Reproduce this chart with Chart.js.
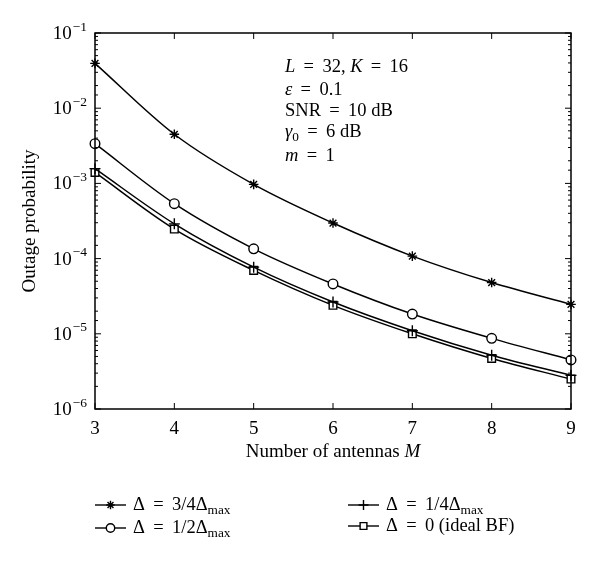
<!DOCTYPE html>
<html>
<head>
<meta charset="utf-8">
<script src="https://cdn.jsdelivr.net/npm/chart.js@4.4.1/dist/chart.umd.min.js"></script>
<style>
  html, body { margin: 0; padding: 0; background: #fff; }
  #wrap { width: 600px; height: 564px; }
</style>
</head>
<body>
<div id="wrap"><canvas id="outageChart" width="600" height="564"></canvas></div>
<script>
// Number of antennas M
const mValues = [3, 4, 5, 6, 7, 8, 9];
// Outage probability
const delta34 = [3.95e-2, 4.5e-3, 9.7e-4, 2.97e-4, 1.08e-4, 4.8e-5, 2.46e-5];
const delta12 = [3.37e-3, 5.37e-4, 1.35e-4, 4.6e-5, 1.83e-5, 8.7e-6, 4.5e-6];
const delta14 = [1.57e-3, 2.9e-4, 7.7e-5, 2.65e-5, 1.1e-5, 5.2e-6, 2.8e-6];
const delta0 = [1.4e-3, 2.47e-4, 6.97e-5, 2.39e-5, 1.0e-5, 4.7e-6, 2.5e-6];
// y tick labels are 10^exp
const yExponents = [-6, -5, -4, -3, -2, -1];

const FONT = '"Liberation Serif", "DejaVu Serif", serif';
const SP = '\u2009'; // thin space, the reference sets "=" a bit wider

function toPoints(values) {
    return mValues.map((m, i) => ({ x: m, y: values[i] }));
}

const seriesDefs = [
    { label: ['Δ' + SP + ' = ' + SP + '3/4Δ', 'max'], data: delta34, style: 'star', radius: 4.8, legendR: 4.2 },
    { label: ['Δ' + SP + ' = ' + SP + '1/2Δ', 'max'], data: delta12, style: 'circle', radius: 4.8, legendR: 4.2 },
    { label: ['Δ' + SP + ' = ' + SP + '1/4Δ', 'max'], data: delta14, style: 'cross', radius: 5.5, legendR: 5 },
    { label: ['Δ' + SP + ' = ' + SP + '0 (ideal BF)', ''], data: delta0, style: 'rect', radius: 5.4, legendR: 4.8 }
];

// draw text made of runs: {t, italic, sub}
function drawRuns(ctx, runs, x, y, size) {
    ctx.textBaseline = 'middle';
    ctx.textAlign = 'left';
    runs.forEach(r => {
        const s = r.sub ? size * 0.72 : size;
        ctx.font = (r.italic ? 'italic ' : '') + s + 'px ' + FONT;
        ctx.fillText(r.t, x, r.sub ? y + size * 0.3 : y);
        x += ctx.measureText(r.t).width;
    });
}

function runsWidth(ctx, runs, size) {
    let w = 0;
    runs.forEach(r => {
        const s = r.sub ? size * 0.72 : size;
        ctx.font = (r.italic ? 'italic ' : '') + s + 'px ' + FONT;
        w += ctx.measureText(r.t).width;
    });
    return w;
}

const EQ = SP + ' = ' + SP;
const annotation = [
    [{ t: 'L', italic: true }, { t: EQ + '32, ' }, { t: 'K', italic: true }, { t: EQ + '16' }],
    [{ t: 'ε', italic: true }, { t: EQ + '0.1' }],
    [{ t: 'SNR' + EQ + '10 dB' }],
    [{ t: 'γ', italic: true }, { t: '0', sub: true }, { t: EQ + '6 dB' }],
    [{ t: 'm', italic: true }, { t: EQ + '1' }]
];

const framePlugin = {
    id: 'frame',
    afterDraw(chart) {
        const ctx = chart.ctx;
        const a = chart.chartArea;
        const xs = chart.scales.x;
        const ys = chart.scales.y;
        ctx.save();
        ctx.strokeStyle = '#000';
        ctx.fillStyle = '#000';
        ctx.lineWidth = 1.5;
        ctx.strokeRect(a.left, a.top, a.right - a.left, a.bottom - a.top);

        // x ticks, inward on bottom and top
        ctx.lineWidth = 1;
        ctx.beginPath();
        xs.ticks.forEach(t => {
            const px = xs.getPixelForValue(t.value);
            ctx.moveTo(px, a.bottom); ctx.lineTo(px, a.bottom - 6);
            ctx.moveTo(px, a.top); ctx.lineTo(px, a.top + 6);
        });
        // y ticks (log), major and minor, inward on left and right
        ys.ticks.forEach(t => {
            const py = ys.getPixelForValue(t.value);
            const exp = Math.log10(t.value);
            const len = Math.abs(exp - Math.round(exp)) < 1e-9 ? 6 : 3;
            ctx.moveTo(a.left, py); ctx.lineTo(a.left + len, py);
            ctx.moveTo(a.right, py); ctx.lineTo(a.right - len, py);
        });
        ctx.stroke();

        // y tick labels 10^n
        yExponents.forEach(e => {
            const py = ys.getPixelForValue(Math.pow(10, e));
            const expText = '−' + Math.abs(e);
            ctx.font = '13.5px ' + FONT;
            const ew = ctx.measureText(expText).width;
            ctx.textBaseline = 'middle';
            ctx.textAlign = 'left';
            ctx.fillText(expText, a.left - 8 - ew, py - 6);
            ctx.font = '19px ' + FONT;
            const bw = ctx.measureText('10').width;
            ctx.fillText('10', a.left - 9 - ew - bw, py + 1);
        });

        // axis titles
        const xRuns = [{ t: 'Number of antennas ' }, { t: 'M', italic: true }];
        const cx = (a.left + a.right) / 2;
        drawRuns(ctx, xRuns, cx - runsWidth(ctx, xRuns, 19) / 2, 452, 19);

        ctx.save();
        ctx.translate(30, (a.top + a.bottom) / 2);
        ctx.rotate(-Math.PI / 2);
        ctx.font = '19px ' + FONT;
        ctx.textAlign = 'center';
        ctx.textBaseline = 'middle';
        ctx.fillText('Outage probability', 0, 0);
        ctx.restore();

        // annotation block
        const annY = [67, 90, 111, 132, 156];
        annotation.forEach((runs, i) => drawRuns(ctx, runs, 285, annY[i], 18.5));

        // legend
        const slots = [
            { x: 95, y: 505 }, { x: 95, y: 528 },
            { x: 348, y: 505 }, { x: 348, y: 526 }
        ];
        seriesDefs.forEach((s, i) => {
            const p = slots[i];
            ctx.lineWidth = 1.4;
            ctx.beginPath();
            ctx.moveTo(p.x, p.y); ctx.lineTo(p.x + 31, p.y);
            ctx.stroke();
            ctx.fillStyle = '#fff';
            Chart.helpers.drawPoint(ctx, {
                pointStyle: s.style, radius: s.legendR,
                rotation: 0, borderWidth: 1.3
            }, p.x + 15.5, p.y);
            ctx.fillStyle = '#000';
            drawRuns(ctx, [{ t: s.label[0] }, { t: s.label[1], sub: true }], p.x + 38, p.y, 18.5);
        });
        ctx.restore();
    }
};

const ctx = document.getElementById('outageChart').getContext('2d');
new Chart(ctx, {
    type: 'line',
    data: {
        datasets: seriesDefs.map(s => ({
            label: s.label.join(''),
            data: toPoints(s.data),
            borderColor: '#000',
            backgroundColor: '#fff',
            borderWidth: 1.5,
            pointStyle: s.style,
            pointRadius: s.radius,
            pointBorderColor: '#000',
            pointBackgroundColor: '#fff',
            pointBorderWidth: 1.4,
            cubicInterpolationMode: 'monotone',
            clip: false,
            fill: false
        }))
    },
    options: {
        responsive: false,
        animation: false,
        devicePixelRatio: 1,
        layout: { padding: { top: 33, right: 29, left: 0, bottom: 0 } },
        plugins: {
            legend: { display: false },
            tooltip: { enabled: false }
        },
        scales: {
            x: {
                type: 'linear',
                min: 3,
                max: 9,
                grid: { display: false, drawTicks: false },
                border: { display: false },
                ticks: {
                    stepSize: 1,
                    padding: 9,
                    color: '#000',
                    font: { family: FONT, size: 19 }
                },
                afterFit(scale) { scale.height = 155; }
            },
            y: {
                type: 'logarithmic',
                min: 1e-6,
                max: 1e-1,
                grid: { display: false, drawTicks: false },
                border: { display: false },
                ticks: { display: false },
                afterFit(scale) { scale.width = 95; }
            }
        }
    },
    plugins: [framePlugin]
});
</script>
</body>
</html>
